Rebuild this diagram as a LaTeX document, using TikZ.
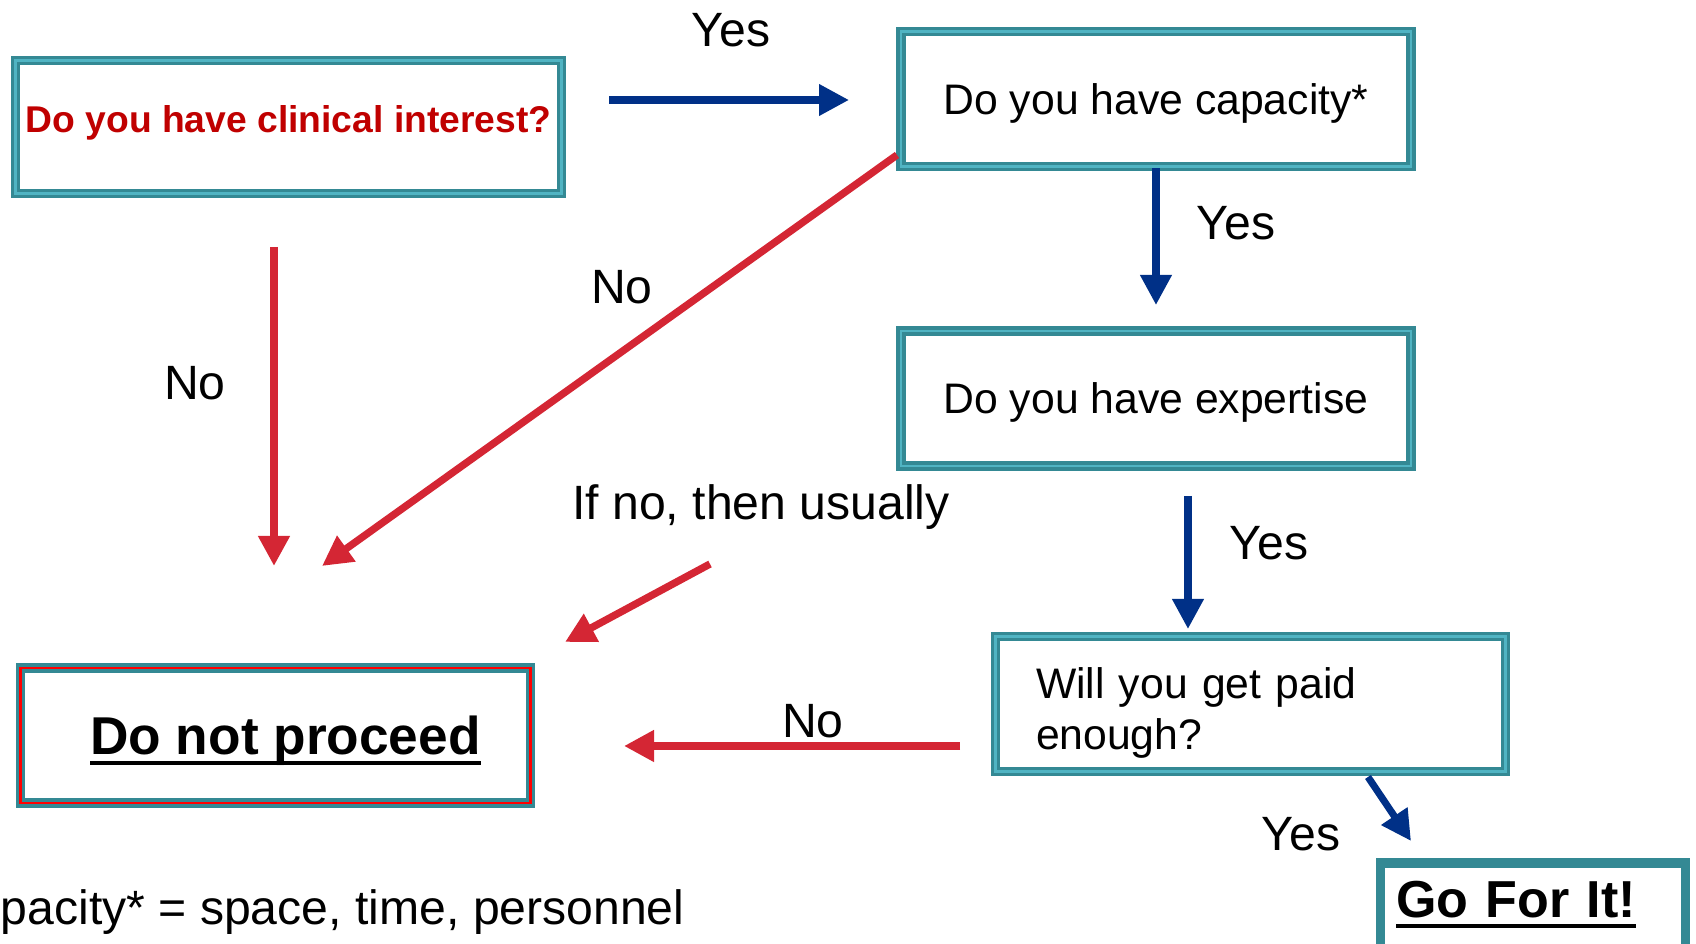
\documentclass[tikz,border=0pt]{standalone}
\usepackage{fontspec}
\setmainfont{Liberation Sans}
\usetikzlibrary{arrows.meta, positioning}

\definecolor{boxteal}{RGB}{52,137,148}
\definecolor{boxlight}{RGB}{80,180,195}
\definecolor{arrowred}{RGB}{212,38,52}
\definecolor{arrowblue}{RGB}{0,48,135}
\definecolor{textred}{RGB}{192,0,0}

% thick underline
\newcommand{\thickul}[1]{\setbox0\hbox{#1}\rlap{\vrule height -0.11em depth 0.19em width \wd0}\box0}

\begin{document}
\begin{tikzpicture}[
    qbox/.style={draw=boxteal, line width=0.9pt, double=boxlight, double distance=0.8pt, fill=white,
        minimum width=5.1cm, minimum height=1.35cm, inner sep=0pt,
        font=\fontsize{12.15}{14.5}\selectfont},
    gobox/.style={draw=boxteal, line width=2.6pt, fill=white, align=left, text width=2.74cm,
        inner xsep=0.155cm, inner ysep=0.185cm, text depth=0.9cm, font=\bfseries\fontsize{14.8}{18}\selectfont},
    yesarrow/.style={-{Triangle[width=0.3cm,length=0.3cm]}, line width=2pt, draw=arrowblue},
    noarrow/.style={-{Triangle[width=0.3cm,length=0.3cm]}, line width=2.1pt, draw=arrowred},
    lbl/.style={inner sep=0pt, font=\fontsize{13.7}{16}\selectfont}
]
    \useasboundingbox (0,0) rectangle (16.96,9.44);

    % Question boxes
    \node[qbox, minimum width=5.46cm, minimum height=1.33cm, text=textred, text depth=0.165cm,
        font=\bfseries\fontsize{10.6}{12}\selectfont] (interest) at (2.885, 8.17) {Do you have clinical interest?};
    \node[qbox, text depth=0pt] (capacity) at (11.56, 8.45) {Do you have capacity*};
    \node[qbox, text depth=0pt] (expertise) at (11.56, 5.455) {Do you have expertise};
    \node[qbox, align=left, text width=4.29cm, inner xsep=0.405cm] (paid) at (12.505, 2.40) {\rule{0pt}{0.48cm}Will you get paid\\enough?};

    % Outcome boxes
    \node[qbox, text depth=0pt, double=red, font=\bfseries\fontsize{15.15}{18}\selectfont] (stop) at (2.755, 2.085) {\hspace*{0.2cm}\thickul{Do not proceed}};
    \node[gobox, anchor=north west] (go) at (13.76, 0.855) {\thickul{Go For It!}};

    % Arrow ends
    \coordinate (yesStart) at (6.09, 8.44);
    \coordinate (yesEnd) at (8.49, 8.44);
    \coordinate (capEnd) at (11.56, 6.39);
    \coordinate (expStart) at (11.88, 4.48);
    \coordinate (expEnd) at (11.88, 3.15);
    \coordinate (paidStart) at (13.68, 1.67);
    \coordinate (paidEnd) at (14.11, 1.03);
    \coordinate (intStart) at (2.74, 6.97);
    \coordinate (intEnd) at (2.74, 3.78);
    \coordinate (capStart) at (8.97, 7.89);
    \coordinate (capNoEnd) at (3.22, 3.78);
    \coordinate (usualStart) at (7.10, 3.80);
    \coordinate (usualEnd) at (5.65, 3.02);
    \coordinate (paidNoStart) at (9.60, 1.98);
    \coordinate (paidNoEnd) at (6.24, 1.98);

    % Yes branches
    \draw[yesarrow] (yesStart) -- (yesEnd);
    \draw[yesarrow] (capacity.south) -- (capEnd);
    \draw[yesarrow] (expStart) -- (expEnd);
    \draw[yesarrow] (paidStart) -- (paidEnd);

    % No branches
    \draw[noarrow] (intStart) -- (intEnd);
    \draw[noarrow] (capStart) -- (capNoEnd);
    \draw[noarrow] (usualStart) -- (usualEnd);
    \draw[noarrow] (paidNoStart) -- (paidNoEnd);

    % Labels
    \node[lbl] (yesTop) at (7.31, 9.14) {Yes};
    \node[lbl] (yesCap) at (12.36, 7.21) {Yes};
    \node[lbl] (yesExp) at (12.69, 4.01) {Yes};
    \node[lbl] (yesPaid) at (13.01, 1.10) {Yes};
    \node[lbl] (noInt) at (1.95, 5.61) {No};
    \node[lbl] (noCap) at (6.22, 6.57) {No};
    \node[lbl] (usual) at (7.61, 4.37) {If no, then usually};
    \node[lbl] (noPaid) at (8.13, 2.23) {No};

    % Footnote
    \node[lbl, anchor=west] (note) at (0.0, 0.32) {pacity* = space, time, personnel};
\end{tikzpicture}
\end{document}
